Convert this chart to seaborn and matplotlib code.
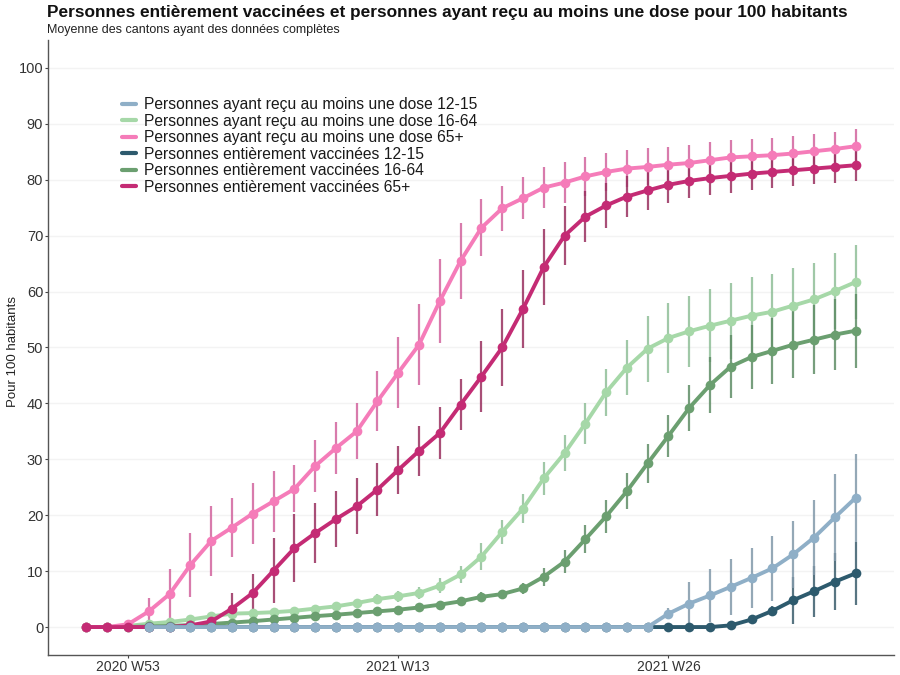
import numpy as np
import pandas as pd
import matplotlib
matplotlib.use("Agg")
import matplotlib.pyplot as plt
import seaborn as sns
from matplotlib.lines import Line2D

nan = np.nan
weeks = ["2020 W51", "2020 W52", "2020 W53"] + [f"2021 W{i:02d}" for i in range(1, 36)]
tick_weeks = ["2020 W53", "2021 W13", "2021 W26"]
tick_labels = ["2020 W53", "2021 W13", "2021 W26"]

series_names = [
    "Personnes ayant reçu au moins une dose 12-15",
    "Personnes ayant reçu au moins une dose 16-64",
    "Personnes ayant reçu au moins une dose 65+",
    "Personnes entièrement vaccinées 12-15",
    "Personnes entièrement vaccinées 16-64",
    "Personnes entièrement vaccinées 65+",
]

dose1_1215 = [nan, nan, nan] + [0.0] * 25 + [2.4, 4.2, 5.65, 7.2, 8.8, 10.5, 13.0, 16.0, 19.6, 23.1]
dose1_1664 = [0, 0, 0.2, 0.6, 0.9, 1.35, 1.9, 2.4, 2.5, 2.65, 2.9, 3.3, 3.7, 4.3, 5.0, 5.5, 6.1, 7.4, 9.4, 12.6,
              17.0, 21.2, 26.6, 31.1, 36.4, 42.0, 46.4, 49.8, 51.7, 52.9, 53.9, 54.8, 55.7, 56.4, 57.5, 58.6, 60.1, 61.7]
dose1_65 = [0, 0, 0.5, 2.8, 5.9, 11.1, 15.4, 17.8, 20.3, 22.5, 24.7, 28.8, 32.0, 35.0, 40.4, 45.5, 50.5, 58.3, 65.5, 71.4,
            74.9, 76.7, 78.6, 79.5, 80.6, 81.4, 82.0, 82.3, 82.7, 83.0, 83.5, 84.0, 84.2, 84.4, 84.7, 85.1, 85.5, 86.0]
full_1215 = [nan, nan, nan] + [0.0] * 28 + [0.3, 1.35, 2.9, 4.8, 6.4, 8.1, 9.6]
full_1664 = [0, 0, 0, 0.1, 0.2, 0.35, 0.55, 0.8, 1.05, 1.35, 1.65, 1.95, 2.2, 2.5, 2.8, 3.1, 3.5, 4.0, 4.6, 5.4,
             5.9, 6.9, 9.0, 11.7, 15.7, 19.8, 24.3, 29.3, 34.2, 39.2, 43.3, 46.6, 48.3, 49.4, 50.5, 51.4, 52.3, 53.0]
full_65 = [0, 0, 0, 0, 0, 0.3, 1.0, 3.3, 6.1, 10.1, 14.1, 16.8, 19.3, 21.6, 24.6, 28.1, 31.5, 34.7, 39.8, 44.8,
           50.0, 56.9, 64.4, 70.0, 73.4, 75.4, 77.0, 78.1, 79.1, 79.8, 80.3, 80.7, 81.1, 81.4, 81.7, 82.0, 82.3, 82.6]

err_dose1_1215 = [0.0] * 28 + [1.0, 3.9, 4.8, 5.0, 5.4, 5.8, 6.0, 6.7, 7.7, 7.9]
err_dose1_1664 = [0, 0, 0.1, 0.3, 0.4, 0.5, 0.5, 0.6, 0.6, 0.6, 0.7, 0.7, 0.7, 0.8, 0.9, 1.0, 1.1, 1.3, 1.6, 2.4,
                  2.2, 2.6, 2.9, 3.2, 3.7, 4.2, 4.9, 5.9, 6.2, 6.3, 6.5, 6.8, 6.9, 6.8, 6.8, 6.6, 6.8, 6.6]
err_dose1_65 = [0, 0, 0.3, 2.4, 4.5, 5.8, 6.2, 5.3, 5.5, 5.5, 4.2, 4.7, 4.7, 5.0, 5.4, 6.3, 7.2, 7.5, 6.8, 5.1,
                4.0, 3.8, 3.7, 3.6, 3.5, 3.4, 3.3, 3.3, 3.2, 3.2, 3.2, 3.2, 3.1, 3.1, 3.1, 3.1, 3.1, 3.1]
err_full_1215 = [0.0] * 32 + [0.5, 0.9, 4.2, 4.6, 5.1, 5.6]
err_full_1664 = [0, 0, 0, 0.1, 0.1, 0.2, 0.2, 0.3, 0.3, 0.3, 0.4, 0.4, 0.4, 0.5, 0.5, 0.5, 0.6, 0.6, 0.7, 0.8,
                 0.8, 0.9, 1.6, 2.1, 2.5, 2.9, 3.2, 3.5, 3.8, 4.1, 5.0, 5.6, 5.8, 5.9, 6.0, 6.2, 6.3, 6.6]
err_full_65 = [0, 0, 0, 0, 0, 0.3, 1.0, 2.8, 3.4, 5.8, 6.1, 5.4, 5.0, 5.0, 4.8, 4.3, 4.4, 4.7, 4.6, 6.3,
               6.9, 7.0, 6.8, 5.3, 4.6, 4.1, 3.7, 3.5, 3.2, 3.1, 3.0, 3.0, 2.9, 2.9, 2.9, 2.8, 2.8, 2.8]

values = [dose1_1215, dose1_1664, dose1_65, full_1215, full_1664, full_65]
errors = [err_dose1_1215, err_dose1_1664, err_dose1_65, err_full_1215, err_full_1664, err_full_65]
line_colors = ["#8fafc7", "#a6d8a8", "#f57cb9", "#2d5a6d", "#6b9f70", "#c42b74"]
bar_colors = ["#8299aa", "#8fbf98", "#d2649e", "#3b5d6c", "#5f8d66", "#99305f"]
draw_order = [1, 4, 2, 5, 3, 0]

sns.set_theme(style="white")
plt.rcParams["font.family"] = ["Liberation Sans", "DejaVu Sans"]

fig = plt.figure(figsize=(9, 6.75), dpi=100)
ax = fig.add_axes([48 / 900, 20 / 675, 846 / 900, 615 / 675])

xpos = np.arange(len(weeks))
for k in draw_order:
    df = pd.DataFrame({"x": xpos, "y": values[k], "e": errors[k]})
    df = df.dropna()
    ax.vlines(df["x"], df["y"] - df["e"], df["y"] + df["e"], color=bar_colors[k],
              lw=1.6, alpha=0.85, zorder=2)
    sns.lineplot(data=df, x="x", y="y", ax=ax, color=line_colors[k], lw=2.8,
                 marker="o", markersize=7, markeredgewidth=0, zorder=3, legend=False)

ax.set_xlim(-1.85, len(weeks) - 1 + 1.85)
ax.set_ylim(-5, 105)
ax.set_yticks(np.arange(0, 101, 10))
ax.set_xticks([weeks.index(w) for w in tick_weeks])
ax.set_xticklabels(tick_labels)
ax.tick_params(axis="y", labelsize=10.5, colors="#444444", length=2.5, width=0.8,
               labelcolor="#333333", left=True, pad=1)
ax.tick_params(axis="x", labelsize=10, colors="#444444", length=2.5, width=0.8,
               labelcolor="#333333", bottom=True, pad=1)
ax.grid(axis="y", color="#f3f3f3", lw=1)
ax.set_axisbelow(True)
for s in ["top", "right"]:
    ax.spines[s].set_visible(False)
for s in ["left", "bottom"]:
    ax.spines[s].set_color("#555555")
    ax.spines[s].set_linewidth(1.0)
ax.set_xlabel("")
ax.set_ylabel("")

handles = [Line2D([0], [0], color=line_colors[k], lw=3) for k in range(6)]
leg = ax.legend(handles, series_names, loc="upper left", bbox_to_anchor=(122 / 900, 1 - 97 / 675),
                bbox_transform=fig.transFigure, frameon=False, fontsize=11.25, handlelength=0.9,
                handletextpad=0.5, labelspacing=0.1, borderaxespad=0, borderpad=0)
for t in leg.get_texts():
    t.set_color("#1a1a1a")

fig.text(47 / 900, 1 - 13 / 675, "Personnes entièrement vaccinées et personnes ayant reçu au moins une dose pour 100 habitants",
         fontsize=12.4, weight="bold", va="center", ha="left", color="#111111")
fig.text(47 / 900, 1 - 30 / 675, "Moyenne des cantons ayant des données complètes",
         fontsize=9, va="center", ha="left", color="#222222")
fig.text(13 / 900, 1 - 352 / 675, "Pour 100 habitants", rotation=90, fontsize=9.5,
         va="center", ha="center", color="#222222")

fig.savefig("out.png", dpi=100)
